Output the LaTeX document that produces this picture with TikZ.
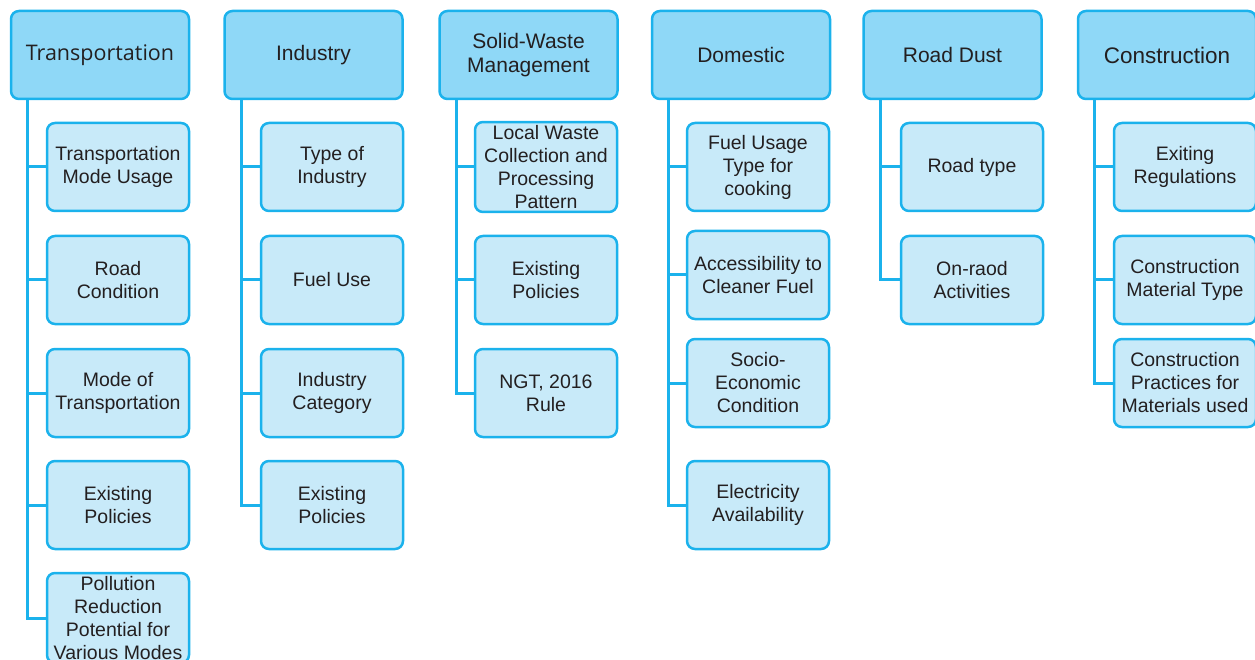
\documentclass[tikz,border=0pt]{standalone}
\usepackage{fontspec}
\setmainfont{Liberation Sans}
\newfontfamily\opensans{Open Sans}
\usepackage{xcolor}
\definecolor{lineblue}{HTML}{1BB2EC}
\definecolor{headfill}{HTML}{8FD8F7}
\definecolor{itemfill}{HTML}{C8EAF9}
\definecolor{inkgray}{HTML}{231F20}
\usepackage{tikz}

\begin{document}
\begin{tikzpicture}[x=1pt,y=-1pt,
  head/.style={draw=lineblue, line width=2.5pt, fill=headfill, rounded corners=8pt,
    minimum width=178pt, minimum height=88pt, align=center, text=inkgray,
    font=\fontsize{21}{24}\selectfont},
  item/.style={draw=lineblue, line width=2.5pt, fill=itemfill, rounded corners=8pt,
    minimum width=142pt, minimum height=88pt, align=center, text=inkgray,
    font=\fontsize{19.5}{23}\selectfont},
  link/.style={draw=lineblue, line width=3pt}]

\useasboundingbox (0,0) rectangle (1255,660);

% headers
\node [head, font=\opensans\fontsize{21.5}{24}\selectfont] (trans) at (100,55) {Transportation};
\node [head] (indus) at (313.5,55) {Industry};
\node [head] (waste) at (528.5,55) {Solid-Waste\\Management};
\node [head] (dome) at (741,55) {Domestic};
\node [head] (road) at (952.5,55) {Road Dust};
\node [head, font=\fontsize{22.5}{26}\selectfont] (cons) at (1167,55) {Construction};

% transportation
\node [item] (trans1) at (118,167) {Transportation\\Mode Usage};
\node [item] (trans2) at (118,280) {Road\\Condition};
\node [item] (trans3) at (118,393) {Mode of\\Transportation};
\node [item] (trans4) at (118,505) {Existing\\Policies};
\node [item] (trans5) at (118,618) {Pollution\\Reduction\\Potential for\\Various Modes};

% industry
\node [item] (indus1) at (332,167) {Type of\\Industry};
\node [item] (indus2) at (332,280) {Fuel Use};
\node [item] (indus3) at (332,393) {Industry\\Category};
\node [item] (indus4) at (332,505) {Existing\\Policies};

% solid waste
\node [item] (waste1) at (546,167) {Local Waste\\Collection and\\Processing\\Pattern};
\node [item] (waste2) at (546,280) {Existing\\Policies};
\node [item] (waste3) at (546,393) {NGT, 2016\\Rule};

% domestic
\node [item] (dome1) at (758,167) {Fuel Usage\\Type for\\cooking};
\node [item] (dome2) at (758,275) {Accessibility to\\Cleaner Fuel};
\node [item] (dome3) at (758,383) {Socio-\\Economic\\Condition};
\node [item] (dome4) at (758,505) {Electricity\\Availability};

% road dust
\node [item] (road1) at (972,167) {Road type};
\node [item] (road2) at (972,280) {On-raod\\Activities};

% construction
\node [item] (cons1) at (1185,167) {Exiting\\Regulations};
\node [item] (cons2) at (1185,280) {Construction\\Material Type};
\node [item] (cons3) at (1185,383) {Construction\\Practices for\\Materials used};

% connectors
\draw [link] ([xshift=18pt]trans.south west) |- (trans5.west);
\draw [link] ([xshift=18pt]trans.south west) |- (trans1.west);
\draw [link] ([xshift=18pt]trans.south west) |- (trans2.west);
\draw [link] ([xshift=18pt]trans.south west) |- (trans3.west);
\draw [link] ([xshift=18pt]trans.south west) |- (trans4.west);

\draw [link] ([xshift=18pt]indus.south west) |- (indus4.west);
\draw [link] ([xshift=18pt]indus.south west) |- (indus1.west);
\draw [link] ([xshift=18pt]indus.south west) |- (indus2.west);
\draw [link] ([xshift=18pt]indus.south west) |- (indus3.west);

\draw [link] ([xshift=18pt]waste.south west) |- (waste3.west);
\draw [link] ([xshift=18pt]waste.south west) |- (waste1.west);
\draw [link] ([xshift=18pt]waste.south west) |- (waste2.west);

\draw [link] ([xshift=18pt]dome.south west) |- (dome4.west);
\draw [link] ([xshift=18pt]dome.south west) |- (dome1.west);
\draw [link] ([xshift=18pt]dome.south west) |- (dome2.west);
\draw [link] ([xshift=18pt]dome.south west) |- (dome3.west);

\draw [link] ([xshift=18pt]road.south west) |- (road2.west);
\draw [link] ([xshift=18pt]road.south west) |- (road1.west);

\draw [link] ([xshift=18pt]cons.south west) |- (cons3.west);
\draw [link] ([xshift=18pt]cons.south west) |- (cons1.west);
\draw [link] ([xshift=18pt]cons.south west) |- (cons2.west);
\end{tikzpicture}
\end{document}
